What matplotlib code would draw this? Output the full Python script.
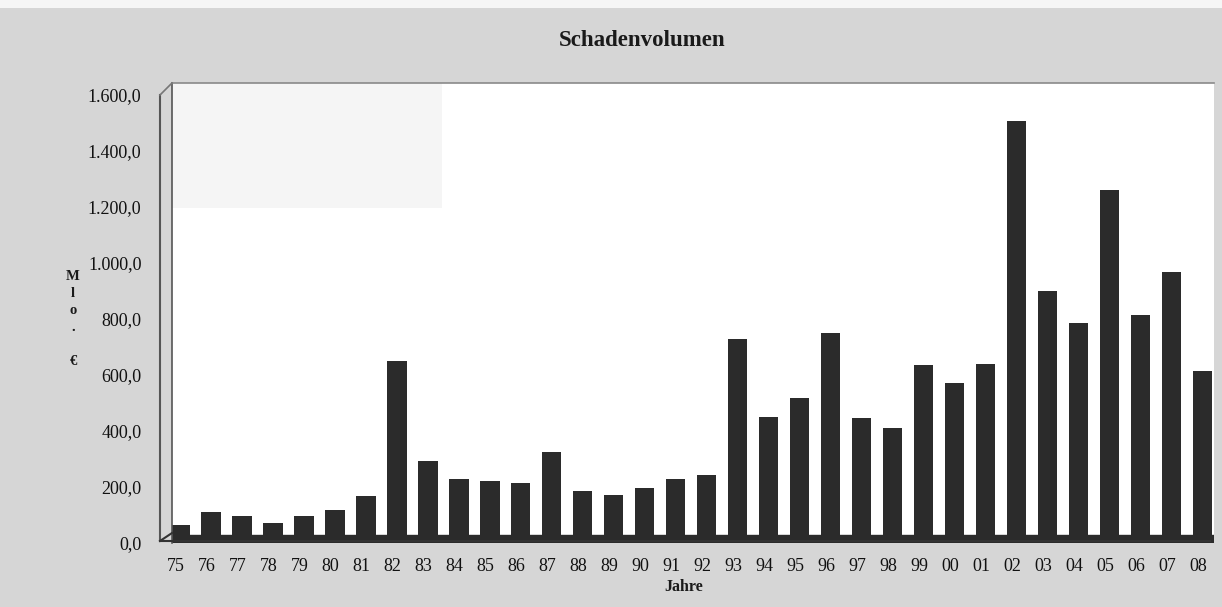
import matplotlib
matplotlib.use("Agg")
import matplotlib.pyplot as plt
from matplotlib.lines import Line2D
from matplotlib.patches import Rectangle
import numpy as np

years = ["75", "76", "77", "78", "79", "80", "81", "82", "83", "84", "85", "86",
         "87", "88", "89", "90", "91", "92", "93", "94", "95", "96", "97", "98",
         "99", "00", "01", "02", "03", "04", "05", "06", "07", "08"]
values = [64, 111, 96, 71, 96, 118, 169, 651, 293, 227, 220, 216,
          326, 186, 170, 196, 227, 243, 727, 450, 517, 749, 448, 412,
          635, 571, 638, 1508, 901, 786, 1261, 813, 968, 613]
yticks = [0, 200, 400, 600, 800, 1000, 1200, 1400, 1600]
ytick_labels = ["0,0", "200,0", "400,0", "600,0", "800,0", "1.000,0",
                "1.200,0", "1.400,0", "1.600,0"]
title = "Schadenvolumen"
xlabel = "Jahre"
ylabel = "M\nl\no\n.\n\n€"

W, H = 1222, 607
fig = plt.figure(figsize=(W / 100, H / 100), dpi=100)
fig.patch.set_facecolor("#d6d6d6")
# white strip at top of scan
fig.patches.append(Rectangle((0, 1 - 8 / H), 1, 8 / H, transform=fig.transFigure,
                             facecolor="#f6f6f6", edgecolor="none", zorder=0))

left_px, right_px, top_px, zero_px = 172, 1214, 83, 543
ax = fig.add_axes([left_px / W, 1 - zero_px / H, (right_px - left_px) / W,
                   (zero_px - top_px) / H])
ax.set_facecolor("white")

x = np.arange(len(years))
ymax = 1600 + (95 - top_px) / 0.28
ax.set_ylim(0, ymax)
ax.set_xlim(-0.26, len(years) - 1 + 0.37)

# faint patch top-left (scan artifact)
ax.add_patch(Rectangle((0, 0.728), 0.259, 0.272, transform=ax.transAxes,
                       facecolor="#f5f5f5", edgecolor="none", zorder=0))

# floor
ax.axhspan(0, 27, color="#2b2b2b", zorder=1)
ax.bar(x, values, width=0.62, color="#2b2b2b", zorder=2)

ax.set_yticks(yticks)
ax.set_yticklabels(ytick_labels, fontfamily="Liberation Serif", fontsize=13,
                   color="#111111")
ax.set_xticks(x - 0.15)
ax.set_xticklabels(years, fontfamily="Liberation Serif", fontsize=13,
                   color="#111111")
ax.tick_params(axis="y", length=0, pad=22)
ax.tick_params(axis="x", length=0, pad=11)

for s in ["right", "bottom"]:
    ax.spines[s].set_visible(False)
ax.spines["top"].set_color("#8a8a8a")
ax.spines["top"].set_linewidth(1.2)
ax.spines["left"].set_color("#555555")
ax.spines["left"].set_linewidth(1.2)

# 3D wall edges
def fx(px):
    return px / W
def fy(py):
    return 1 - py / H
fig.add_artist(Line2D([fx(160), fx(160)], [fy(540), fy(95)], color="#555555", lw=1.5))
fig.add_artist(Line2D([fx(160), fx(172)], [fy(95), fy(83)], color="#777777", lw=1.2))
fig.add_artist(Line2D([fx(160), fx(172)], [fy(541), fy(533)], color="#333333", lw=1.5))
fig.add_artist(Line2D([fx(160), fx(1210)], [fy(541), fy(541)], color="#333333", lw=1.5))

fig.text(fx(642), fy(41), title, ha="center", va="center", fontsize=16.5,
         fontweight="bold", fontfamily="Liberation Serif", color="#1a1a1a")
fig.text(fx(684), fy(587), xlabel, ha="center", va="center", fontsize=11.5,
         fontweight="bold", fontfamily="Liberation Serif", color="#1a1a1a")
fig.text(fx(73), fy(319), ylabel, ha="center", va="center", fontsize=10.5,
         fontweight="bold", fontfamily="Liberation Serif", color="#1a1a1a",
         linespacing=1.4)

fig.savefig("out.png", dpi=100, facecolor=fig.get_facecolor())
